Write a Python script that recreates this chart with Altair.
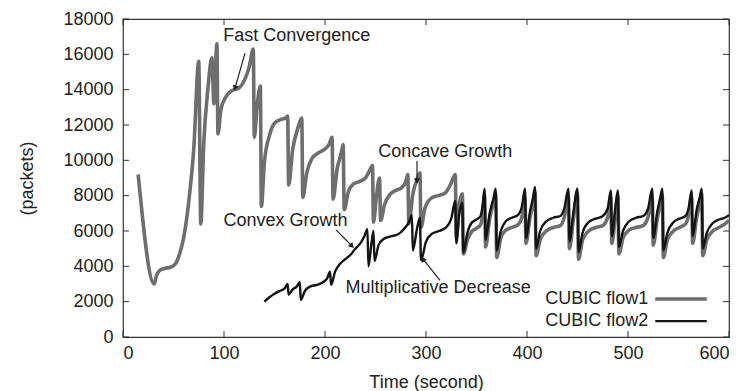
import altair as alt
import pandas as pd

# ---- data ----
flow1_time = [15, 31, 33, 36, 41, 47, 52, 56, 60, 65, 70, 75, 77, 80, 84, 88, 90, 93, 94, 97,
              102, 108, 115, 120, 125, 129, 130, 133, 136, 137, 140, 145, 150, 156, 161, 163, 164, 168, 173, 177,
              178, 182, 187, 193, 199, 204, 207, 208, 212, 216, 218, 219, 223, 228, 234, 240, 244, 247, 248, 251,
              254, 255, 259, 264, 270, 276, 280, 282, 283, 287, 291, 294, 295, 299, 305, 312, 319, 324, 329, 330,
              333, 336, 337, 341, 345, 350, 354, 356, 358, 359, 363, 367, 369, 370, 374, 379, 385, 391, 395, 398,
              399, 403, 406, 408, 409, 413, 419, 426, 433, 437, 441, 442, 446, 450, 451, 455, 461, 468, 475, 480,
              483, 484, 488, 490, 491, 495, 501, 508, 515, 520, 524, 525, 529, 532, 534, 535, 539, 545, 551, 557,
              560, 563, 564, 568, 571, 573, 574, 578, 584, 590, 596, 600]
flow1_cwnd = [9200, 3000, 3450, 3750, 3880, 3950, 4150, 4700, 5600, 7600, 10600, 15600, 6400, 11000, 14000, 15800, 13200, 16600, 11500, 12900,
              13600, 13950, 14100, 14500, 15300, 16300, 11300, 13200, 14200, 7400, 9900, 11400, 12100, 12300, 12400, 12500, 8600, 10600, 11800, 12400,
              7900, 9300, 10100, 10400, 10600, 10900, 11300, 7800, 9500, 10400, 10900, 7200, 8200, 8650, 8800, 9000, 9400, 9700, 6500, 8000,
              9000, 6600, 7500, 8050, 8300, 8450, 8800, 9200, 6400, 8100, 8900, 9300, 6200, 7300, 7850, 8000, 8150, 8600, 9200, 5600,
              7500, 8100, 4700, 5500, 5950, 6150, 6350, 6900, 8000, 5100, 6700, 7600, 8100, 4500, 5600, 6050, 6200, 6350, 6800, 7900,
              5300, 6800, 7500, 8200, 4600, 5500, 6000, 6200, 6300, 6800, 8000, 5000, 6700, 8100, 4400, 5500, 6000, 6200, 6300, 6800,
              7900, 5300, 7200, 8000, 4700, 5600, 6050, 6200, 6300, 6800, 7900, 5200, 6700, 7500, 8000, 4500, 5500, 6000, 6200, 6400,
              6900, 7900, 5300, 6800, 7500, 8100, 4600, 5500, 6000, 6200, 6400, 6600]

flow2_time = [140, 145, 150, 155, 160, 163, 164, 168, 172, 175, 176, 180, 185, 192, 198, 202, 205, 206, 210, 215,
              220, 226, 230, 235, 239, 242, 243, 246, 248, 249, 253, 258, 265, 272, 278, 283, 286, 287, 291, 294,
              295, 300, 306, 313, 320, 325, 329, 330, 333, 336, 337, 341, 345, 350, 354, 356, 358, 359, 363, 367,
              369, 370, 374, 379, 385, 391, 395, 398, 399, 403, 406, 408, 409, 413, 419, 426, 433, 437, 441, 442,
              446, 450, 451, 455, 461, 468, 475, 480, 483, 484, 488, 490, 491, 495, 501, 508, 515, 520, 524, 525,
              529, 532, 534, 535, 539, 545, 551, 557, 560, 563, 564, 568, 571, 573, 574, 578, 584, 590, 596, 600]
flow2_cwnd = [2000, 2250, 2450, 2600, 2750, 3000, 2400, 2700, 2850, 3100, 2100, 2600, 2850, 2950, 3100, 3300, 3700, 2950, 3700, 4150,
              4400, 4700, 5000, 5300, 5700, 6100, 4000, 5300, 6000, 4300, 5200, 5550, 5700, 5800, 6100, 6500, 6900, 4900, 6100, 6750,
              4350, 5400, 5850, 6000, 6200, 6700, 7700, 5300, 7000, 7600, 4800, 5900, 6450, 6650, 6850, 7400, 8400, 5500, 7000, 7900,
              8400, 4900, 6000, 6550, 6750, 6900, 7400, 8400, 5600, 7100, 7900, 8500, 5000, 6000, 6550, 6750, 6850, 7300, 8400, 5400,
              7100, 8400, 4800, 5900, 6500, 6700, 6850, 7300, 8300, 5700, 7600, 8300, 5100, 6000, 6550, 6750, 6850, 7300, 8400, 5600,
              7100, 7900, 8400, 4900, 5900, 6500, 6700, 6850, 7300, 8300, 5700, 7200, 7900, 8400, 5000, 5900, 6450, 6650, 6750, 6900]

x_tick_values = [0, 100, 200, 300, 400, 500, 600]
y_tick_values = [0, 2000, 4000, 6000, 8000, 10000, 12000, 14000, 16000, 18000]

note_labels = ["Fast Convergence", "Concave Growth", "Convex Growth", "Multiplicative Decrease"]
note_time = [172, 319, 161, 312]
note_cwnd = [17030, 10470, 6570, 2800]

arrow_from_time = [120.8, 291.1, 210.9, 313.9]
arrow_from_cwnd = [16070, 9960, 6060, 3210]
arrow_to_time = [110.9, 291.1, 226.7, 297.0]
arrow_to_cwnd = [14090, 8830, 5150, 4410]
arrow_angle = [196, 180, 135, 329]

legend_labels = ["CUBIC flow1", "CUBIC flow2"]
legend_cwnd = [2150, 900]
legend_text_time = [520, 520]
legend_line_start = [527, 527]
legend_line_end = [578, 578]

assert len(flow1_time) == len(flow1_cwnd)
assert len(flow2_time) == len(flow2_cwnd)

W, H = 606, 318
FONT = "Liberation Sans"
FS = 18
GRAY = "#6e6e6e"
BLACK = "#141414"
TXT = "#222222"

xs = alt.Scale(domain=[0, 600], nice=False, zero=False)
ys = alt.Scale(domain=[0, 18000], nice=False)

x_axis = alt.Axis(values=x_tick_values, ticks=False, domain=False, grid=False, format="d",
                  labelFontSize=FS, labelPadding=7, labelFont=FONT, labelColor=TXT,
                  title="Time (second)", titleFont=FONT, titleFontSize=FS, titleFontWeight="normal",
                  titleColor=TXT, titleX=303, titleY=45, titleAlign="center", titleBaseline="middle")
y_axis = alt.Axis(values=y_tick_values, ticks=False, domain=False, grid=False, format="d",
                  labelFontSize=FS, labelPadding=10, labelFont=FONT, labelColor=TXT,
                  title="(packets)", titleFont=FONT, titleFontSize=FS, titleFontWeight="normal",
                  titleColor=TXT, titleAngle=270, titleX=-96, titleY=159,
                  titleAlign="center", titleBaseline="middle")


def X(field):
    return alt.X(field, type="quantitative", scale=xs, axis=x_axis)


def Y(field):
    return alt.Y(field, type="quantitative", scale=ys, axis=y_axis)


df1 = pd.DataFrame({"t": flow1_time, "cwnd": flow1_cwnd})
df2 = pd.DataFrame({"t": flow2_time, "cwnd": flow2_cwnd})

line1 = alt.Chart(df1).mark_line(color=GRAY, strokeWidth=3.6, interpolate="monotone").encode(
    x=X("t"), y=Y("cwnd"))
line2 = alt.Chart(df2).mark_line(color=BLACK, strokeWidth=2.4, interpolate="monotone").encode(
    x=X("t"), y=Y("cwnd"))

xt_df = pd.DataFrame({"t": x_tick_values})
yt_df = pd.DataFrame({"cwnd": y_tick_values})
tick_bottom = alt.Chart(xt_df).mark_rule(color="#333", strokeWidth=1).encode(
    x=X("t"), y=alt.value(H), y2=alt.value(H - 6))
tick_top = alt.Chart(xt_df).mark_rule(color="#333", strokeWidth=1).encode(
    x=X("t"), y=alt.value(0), y2=alt.value(6))
tick_left = alt.Chart(yt_df).mark_rule(color="#333", strokeWidth=1).encode(
    y=Y("cwnd"), x=alt.value(0), x2=alt.value(6))
tick_right = alt.Chart(yt_df).mark_rule(color="#333", strokeWidth=1).encode(
    y=Y("cwnd"), x=alt.value(W), x2=alt.value(W - 6))

notes_df = pd.DataFrame({"label": note_labels, "t": note_time, "cwnd": note_cwnd})
notes = alt.Chart(notes_df).mark_text(font=FONT, fontSize=FS, color=TXT, align="center", baseline="middle").encode(
    x=X("t"), y=Y("cwnd"), text="label:N")

arr_df = pd.DataFrame({"t0": arrow_from_time, "y0": arrow_from_cwnd, "t1": arrow_to_time,
                       "y1": arrow_to_cwnd, "ang": arrow_angle})
arrow_lines = alt.Chart(arr_df).mark_rule(color=TXT, strokeWidth=1.2).encode(
    x=X("t0"), y=Y("y0"), x2="t1:Q", y2="y1:Q")
arrow_heads = alt.Chart(arr_df).mark_point(shape="triangle-up", filled=True, size=38, color=TXT, opacity=1).encode(
    x=X("t1"), y=Y("y1"), angle=alt.Angle("ang:Q", scale=None))

leg_df = pd.DataFrame({"label": legend_labels, "cwnd": legend_cwnd, "tt": legend_text_time,
                       "t0": legend_line_start, "t1": legend_line_end})
leg_text = alt.Chart(leg_df).mark_text(font=FONT, fontSize=FS, color=TXT, align="right", baseline="middle").encode(
    x=X("tt"), y=Y("cwnd"), text="label:N")
leg_line1 = alt.Chart(leg_df.iloc[[0]]).mark_rule(color=GRAY, strokeWidth=3.6).encode(
    x=X("t0"), x2="t1:Q", y=Y("cwnd"))
leg_line2 = alt.Chart(leg_df.iloc[[1]]).mark_rule(color=BLACK, strokeWidth=2.4).encode(
    x=X("t0"), x2="t1:Q", y=Y("cwnd"))

chart = alt.layer(
    line1, line2, tick_bottom, tick_top, tick_left, tick_right,
    notes, arrow_lines, arrow_heads, leg_text, leg_line1, leg_line2,
).properties(
    width=W, height=H,
    autosize=alt.AutoSizeParams(type="none"),
    padding={"left": 123, "top": 19, "right": 19, "bottom": 54},
    background="white",
).configure_view(stroke="#333", strokeWidth=1.2)

chart.save("out.html", embed_options={"renderer": "svg", "actions": False})
